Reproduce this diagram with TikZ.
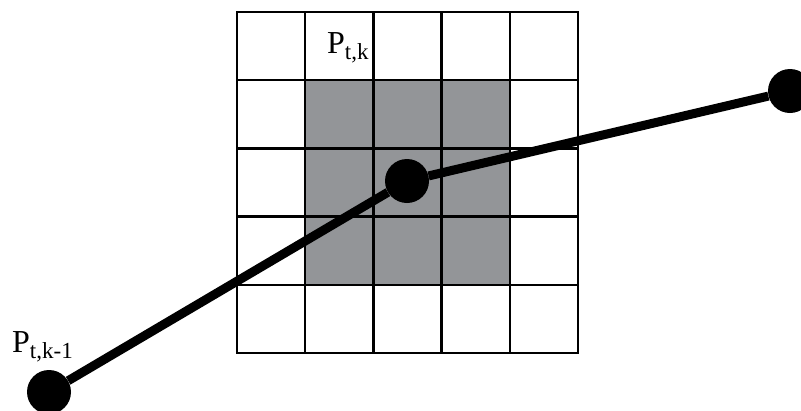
\documentclass[tikz,border=0pt]{standalone}
\usepackage{fontspec}
\setmainfont{Liberation Serif}
\definecolor{cellgray}{HTML}{939598}
\tikzset{
  dot/.style={circle, fill=black, inner sep=0pt, minimum size=44pt},
  track/.style={line width=9pt},
  gridline/.style={line width=2.5pt, line cap=rect},
  lbl/.style={anchor=base west, inner sep=0pt, font=\fontsize{32}{36}\selectfont}
}
\newcommand{\lowidx}[1]{\raisebox{-6pt}{\fontsize{23}{26}\selectfont #1}}

\begin{document}
\begin{tikzpicture}[x=1pt,y=-1pt]
  \useasboundingbox (0,0) rectangle (801,410);
  % shaded 3x3 neighbourhood
  \fill[cellgray] (305.2,80.2) rectangle (509.8,284.8);
  \foreach \i in {0,...,5} {
    \draw[gridline] ({237+68.2*\i},12) -- ({237+68.2*\i},353);
    \draw[gridline] (237,{12+68.2*\i}) -- (578,{12+68.2*\i});
  }
  \node[dot] (prev) at (49,392) {};
  \node[dot] (cur) at (407,181) {};
  \node[dot] (next) at (790,91) {};
  \draw[track] (prev) -- (cur) -- (next);
  \node[lbl] (lcur) at (327,53) {P\lowidx{t,k}};
  \node[lbl] (lprev) at (12,352) {P\lowidx{t,k-1}};
\end{tikzpicture}
\end{document}
